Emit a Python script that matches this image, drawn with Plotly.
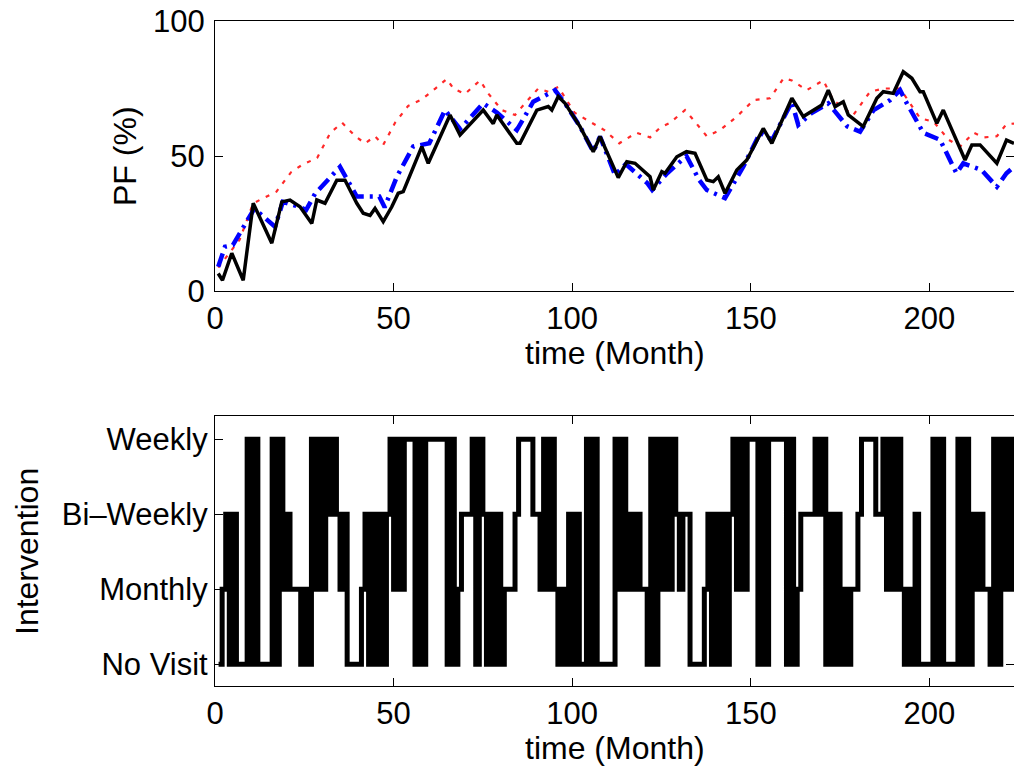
import plotly.graph_objects as go

# ---------------- data ----------------
black_x = [0.9, 2.1, 4.7, 7.9, 10.7, 15.9, 18.7, 21.0, 23.8, 27.1, 28.5, 30.8, 34.1, 36.4, 39.7,
           41.5, 43.4, 44.8, 47.1, 49.5, 51.3, 52.7, 57.9, 59.7, 65.8, 68.6, 75.1, 77.9, 78.9, 84.5,
           85.4, 90.1, 93.3, 94.3, 96.1, 98.0, 102.2, 105.9, 107.8, 112.9, 115.3, 117.6, 121.8, 122.7, 125.1,
           126.0, 129.3, 132.0, 134.4, 137.7, 139.5, 140.9, 142.8, 146.1, 148.9, 153.5, 155.9, 158.7, 161.5, 164.7,
           169.9, 171.7, 173.6, 175.9, 177.3, 181.5, 185.3, 187.1, 189.9, 192.7, 195.1, 197.4, 198.3, 202.1, 203.9,
           210.0, 211.9, 214.2, 218.9, 221.6, 223.7]
black_y = [6.5, 4.0, 14.0, 4.0, 32.5, 17.7, 33.0, 33.7, 31.2, 25.0, 33.7, 32.5, 41.0, 41.0, 32.5,
           28.8, 28.0, 30.6, 25.7, 31.2, 36.2, 36.8, 53.5, 47.3, 65.2, 57.8, 67.0, 62.0, 65.2, 54.7,
           54.7, 67.0, 68.3, 67.0, 72.0, 69.5, 60.9, 51.6, 57.2, 42.0, 47.9, 47.3, 42.3, 37.4, 44.2,
           43.6, 49.7, 51.6, 51.0, 41.1, 40.5, 42.3, 36.2, 44.8, 48.5, 60.2, 54.7, 63.3, 71.4, 64.6,
           68.9, 74.4, 68.3, 70.1, 65.2, 60.9, 71.4, 73.8, 73.2, 81.2, 78.8, 73.8, 73.8, 62.1, 67.0,
           48.5, 54.1, 54.1, 47.3, 55.9, 54.7]

blue_x = [0.9, 2.8, 5.0, 9.8, 11.0, 16.8, 19.0, 24.0, 25.5, 28.0, 35.0, 39.7, 43.0, 46.0, 47.5,
          50.9, 55.5, 60.0, 64.4, 68.6, 75.1, 79.0, 84.5, 89.1, 91.0, 95.2, 98.0, 102.2, 105.9, 107.8,
          112.0, 115.0, 121.0, 122.4, 126.6, 132.0, 135.6, 137.7, 142.8, 147.9, 152.6, 156.0, 161.5, 163.3, 166.9,
          171.7, 177.0, 180.6, 184.4, 189.0, 191.8, 193.7, 198.3, 203.0, 207.6, 209.5, 214.6, 218.9, 221.6, 223.7]
blue_y = [9.0, 16.4, 17.0, 27.5, 30.5, 23.8, 33.0, 31.0, 30.0, 36.0, 46.0, 35.0, 35.0, 35.0, 31.0,
          42.3, 53.5, 54.7, 67.0, 60.0, 69.5, 66.0, 59.6, 70.1, 71.4, 74.4, 69.5, 60.9, 51.6, 57.2,
          43.0, 47.0, 40.0, 37.4, 43.6, 50.0, 41.0, 37.4, 34.4, 46.0, 58.6, 56.0, 70.0, 61.5, 65.8,
          69.5, 61.0, 59.0, 67.0, 70.7, 74.4, 69.5, 58.6, 56.0, 43.6, 47.3, 44.8, 38.6, 43.6, 46.0]

red_x = [0.9, 6.9, 10.7, 17.2, 21.3, 24.5, 28.6, 32.3, 35.6, 39.3, 42.0, 44.8, 47.1, 50.4, 54.1,
         57.9, 61.6, 64.9, 66.8, 70.0, 74.2, 76.6, 80.3, 84.0, 86.8, 90.5, 93.3, 96.1, 100.7, 106.3,
         109.0, 113.2, 118.0, 121.8, 124.6, 127.4, 131.6, 134.0, 137.7, 141.4, 146.1, 150.8, 155.4, 159.2, 161.5,
         165.7, 170.3, 173.1, 178.7, 183.4, 187.1, 191.8, 197.4, 201.2, 205.4, 208.6, 212.4, 215.2, 218.9, 221.6,
         223.7]
red_y = [8.7, 19.0, 32.5, 36.8, 44.0, 46.8, 49.3, 58.6, 62.3, 57.3, 54.7, 57.3, 54.1, 62.3, 68.6,
         71.0, 74.9, 78.5, 74.9, 73.0, 78.0, 73.0, 67.0, 65.2, 69.5, 75.0, 73.8, 75.6, 66.0, 61.5,
         59.6, 54.7, 58.6, 56.9, 60.5, 62.3, 67.0, 63.3, 57.3, 59.6, 64.6, 70.7, 71.4, 78.8, 78.0,
         74.4, 78.0, 70.7, 65.2, 73.8, 75.0, 75.0, 64.0, 62.7, 56.0, 53.5, 58.6, 56.9, 57.3, 61.8,
         62.0]

# intervention level per month: 0 = No Visit, 1 = Monthly, 2 = Bi-Weekly, 3 = Weekly
months = list(range(1, 225))
intervention = [
    0, 1, 2, 0, 2, 0, 0, 0, 3, 0,
    3, 0, 0, 0, 0, 3, 0, 3, 1, 2,
    1, 1, 1, 0, 1, 0, 3, 1, 3, 1,
    3, 2, 3, 2, 1, 2, 0, 0, 0, 0,
    1, 2, 0, 2, 0, 2, 0, 2, 3, 1,
    3, 1, 3, 3, 3, 0, 3, 0, 3, 3,
    3, 3, 3, 3, 0, 3, 0, 1, 2, 2,
    2, 3, 0, 3, 2, 0, 2, 0, 2, 0,
    1, 1, 1, 2, 3, 3, 3, 3, 2, 2,
    1, 3, 1, 3, 1, 0, 1, 0, 2, 0,
    2, 0, 0, 3, 0, 3, 0, 0, 0, 0,
    0, 3, 1, 3, 1, 2, 1, 2, 1, 1,
    0, 3, 0, 3, 1, 3, 1, 3, 2, 1,
    2, 2, 0, 0, 0, 0, 1, 2, 0, 2,
    0, 2, 0, 2, 3, 1, 3, 1, 3, 3,
    3, 0, 3, 0, 3, 3, 3, 3, 3, 0,
    3, 0, 1, 2, 2, 2, 2, 3, 2, 3,
    0, 2, 0, 2, 0, 1, 0, 1, 1, 2,
    3, 3, 3, 3, 2, 2, 3, 1, 3, 1,
    3, 1, 0, 1, 0, 2, 0, 0, 0, 0,
    3, 0, 3, 0, 0, 0, 0, 3, 0, 3,
    0, 2, 1, 2, 1, 1, 0, 3, 0, 3,
    1, 3, 1, 3,
]

x_ticks = [0, 50, 100, 150, 200]
pf_ticks = [0, 50, 100]
level_vals = [0, 1, 2, 3]
level_text = ["No Visit", "Monthly", "Bi\u2013Weekly", "Weekly"]

# ---------------- figure ----------------
W, H = 1014, 771
FONT = "Liberation Sans, Arial, Helvetica, sans-serif"
TICK_SIZE = 31
TITLE_SIZE = 32

fig = go.Figure()
fig.add_trace(go.Scatter(x=red_x, y=red_y, mode="lines", xaxis="x", yaxis="y",
                         line=dict(color="rgb(255,40,40)", width=2.2, dash="4px,7px")))
fig.add_trace(go.Scatter(x=blue_x, y=blue_y, mode="lines", xaxis="x", yaxis="y",
                         line=dict(color="rgb(0,0,255)", width=4.5, dash="14px,6px,3px,6px")))
fig.add_trace(go.Scatter(x=black_x, y=black_y, mode="lines", xaxis="x", yaxis="y",
                         line=dict(color="black", width=3.5)))
fig.add_trace(go.Scatter(x=months, y=intervention, mode="lines", xaxis="x2", yaxis="y2",
                         line=dict(color="black", width=5, shape="hv")))

xl = 215 / W
top_dom = [(H - 291) / H, (H - 21) / H]
bot_dom = [(H - 686) / H, (H - 416) / H]

axis_common = dict(showline=True, linecolor="black", linewidth=1.2, mirror="allticks",
                   ticks="inside", ticklen=8, tickwidth=1.2, tickcolor="black",
                   showgrid=False, zeroline=False, automargin=False,
                   tickfont=dict(family=FONT, size=TICK_SIZE, color="black"))

fig.update_layout(
    width=W, height=H,
    margin=dict(l=0, r=0, t=0, b=0),
    paper_bgcolor="white", plot_bgcolor="white",
    showlegend=False,
    xaxis=dict(domain=[xl, 1], range=[0, 223.7], tickvals=x_ticks, anchor="y",
               ticklabelstandoff=0, **axis_common),
    yaxis=dict(domain=top_dom, range=[0, 100], tickvals=pf_ticks, anchor="x",
               ticklabelstandoff=3, **axis_common),
    xaxis2=dict(domain=[xl, 1], range=[0, 223.7], tickvals=x_ticks, anchor="y2",
                ticklabelstandoff=0, **axis_common),
    yaxis2=dict(domain=bot_dom, range=[-0.29, 3.31], tickvals=level_vals, ticktext=level_text,
                anchor="x2", ticklabelstandoff=0, **axis_common),
)

title_font = dict(family=FONT, size=TITLE_SIZE, color="black")
fig.add_annotation(text="PF (%)", x=125 / W, y=(H - 156) / H, xref="paper", yref="paper",
                   textangle=-90, showarrow=False, font=title_font, xanchor="center", yanchor="middle")
fig.add_annotation(text="time (Month)", x=614.5 / W, y=(H - 353) / H, xref="paper", yref="paper",
                   showarrow=False, font=title_font, xanchor="center", yanchor="middle")
fig.add_annotation(text="Intervention", x=27 / W, y=(H - 552) / H, xref="paper", yref="paper",
                   textangle=-90, showarrow=False, font=title_font, xanchor="center", yanchor="middle")
fig.add_annotation(text="time (Month)", x=614.5 / W, y=(H - 748) / H, xref="paper", yref="paper",
                   showarrow=False, font=title_font, xanchor="center", yanchor="middle")

fig.write_html("out.html", config={"displayModeBar": False},
               post_script="document.body.style.margin='0px';")
